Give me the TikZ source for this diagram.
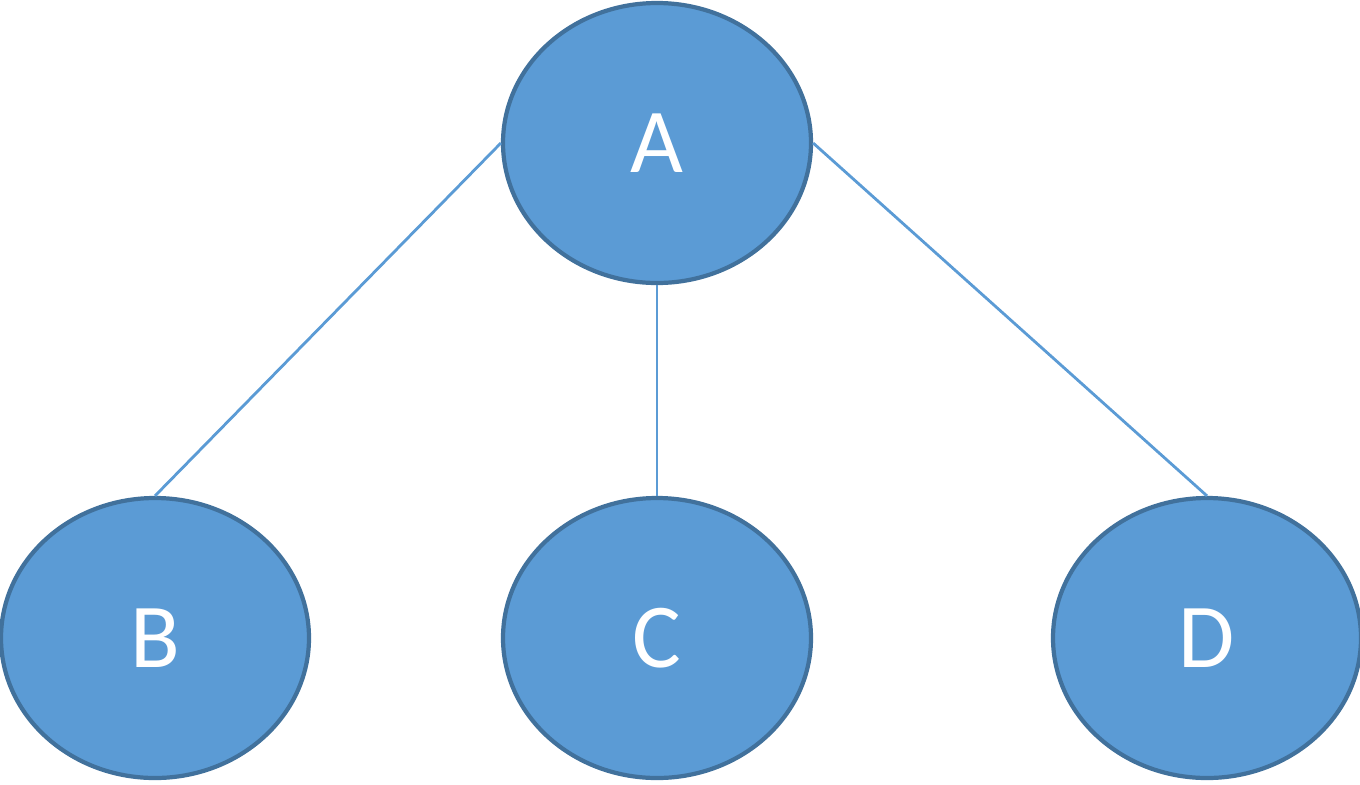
\documentclass[tikz,border=0pt]{standalone}
\usepackage{fontspec}
\setsansfont{Carlito}
\usetikzlibrary{shapes.geometric}
\definecolor{knotfill}{HTML}{5B9BD5}
\definecolor{knotline}{HTML}{41719C}
\tikzset{
	knot/.style={ellipse, draw=knotline, line width=1.2pt, fill=knotfill, text=white,
		minimum width=3.08cm, minimum height=2.8cm, inner sep=0pt,
		font=\sffamily\fontsize{26}{30}\selectfont},
	branch/.style={draw=knotfill, line width=0.8pt}
}
\begin{document}
\begin{tikzpicture}
				\useasboundingbox (0, 0) rectangle (13.6, 7.84);

				% racine
				\node[knot] (A) at (6.57, 6.41) {A};

				% feuilles
				\node[knot] (B) at (1.55, 1.46) {B};
				\node[knot] (C) at (6.57, 1.46) {C};
				\node[knot] (D) at (12.07, 1.46) {D};

				% branches
				\draw[branch] (A.west) -- (B.north);
				\draw[branch] (A.south) -- (C.north);
				\draw[branch] (A.east) -- (D.north);
			\end{tikzpicture}
\end{document}
